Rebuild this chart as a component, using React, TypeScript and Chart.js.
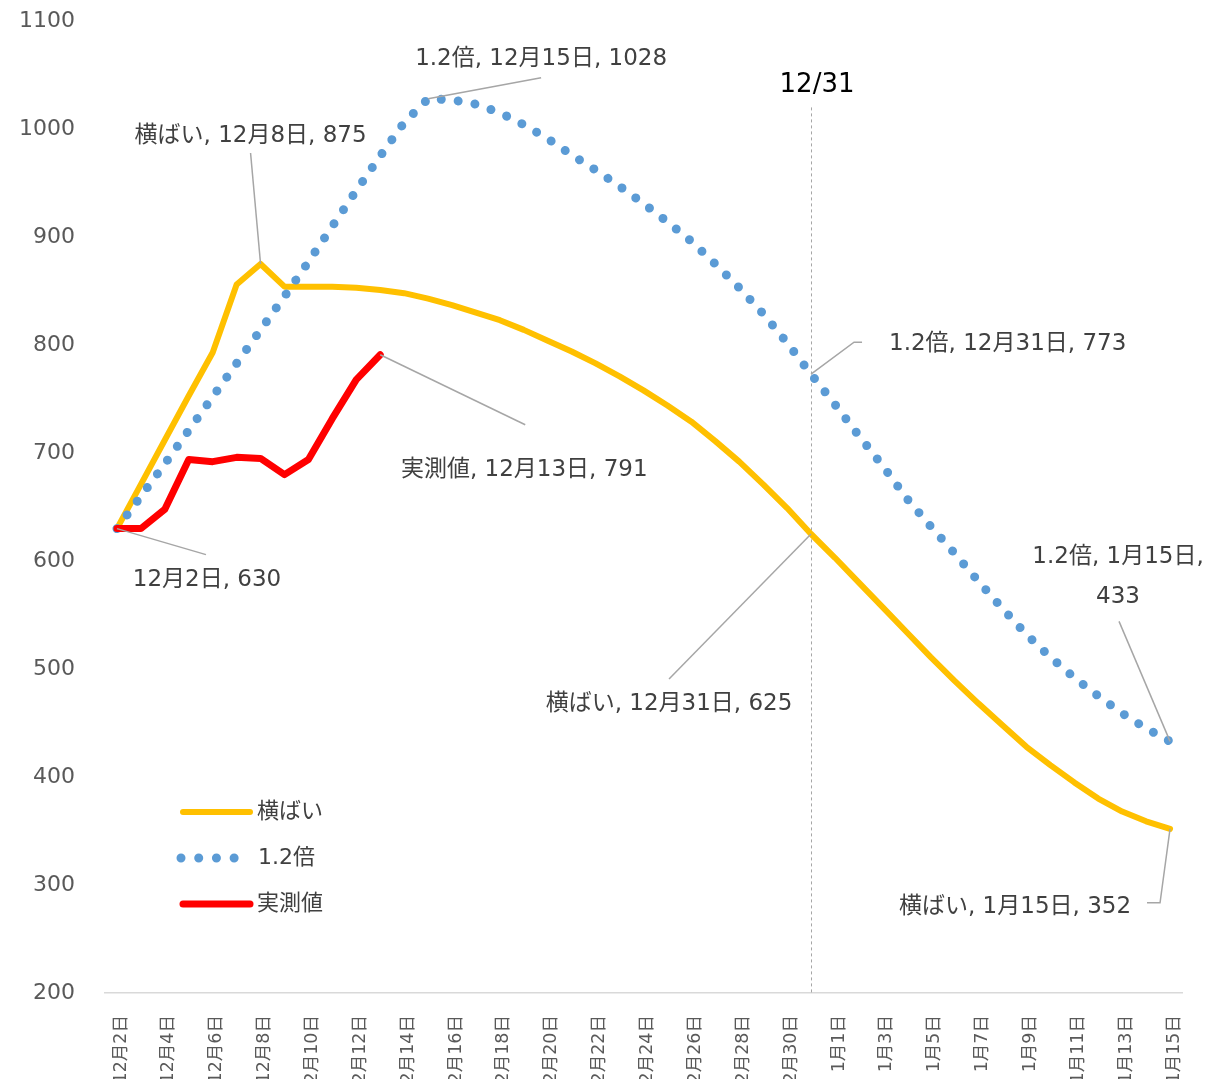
import React, { useEffect, useRef } from 'react';
import { Chart, registerables } from 'chart.js';

Chart.register(...registerables);

const categories = [
  '12月2日', '12月3日', '12月4日', '12月5日', '12月6日', '12月7日', '12月8日', '12月9日', '12月10日',
  '12月11日', '12月12日', '12月13日', '12月14日', '12月15日', '12月16日', '12月17日', '12月18日',
  '12月19日', '12月20日', '12月21日', '12月22日', '12月23日', '12月24日', '12月25日', '12月26日',
  '12月27日', '12月28日', '12月29日', '12月30日', '12月31日',
  '1月1日', '1月2日', '1月3日', '1月4日', '1月5日', '1月6日', '1月7日', '1月8日', '1月9日',
  '1月10日', '1月11日', '1月12日', '1月13日', '1月14日', '1月15日',
];

const flatValues = [
  630, 671, 712, 753, 793, 856, 875, 854, 854, 854, 853, 851, 848, 843, 837, 830, 823, 814, 804,
  794, 783, 771, 758, 744, 729, 711, 692, 671, 649, 625, 603, 580, 557, 534, 511, 489, 468, 448,
  428, 411, 395, 380, 368, 359, 352,
];

const x12Values = [
  630, 660, 690, 721, 752, 783, 814, 845, 877, 910, 943, 975, 1006, 1028, 1027, 1023, 1015, 1004,
  991, 976, 962, 947, 931, 914, 896, 875, 853, 829, 802, 773, 745, 716, 688, 658, 632, 607, 581,
  556, 532, 511, 492, 475, 459, 445, 433,
];

const actualValues = [630, 630, 648, 694, 692, 696, 695, 680, 694, 732, 768, 791];

const seriesNames = ['横ばい', '1.2倍', '実測値'];
const yMin = 200;
const yMax = 1100;
const yStep = 100;
const markerIndex = 29; // 12月31日
const markerLabel = '12/31';
const markerTopValue = 1020;

const FONT = '"DejaVu Sans", "Noto Sans CJK JP", sans-serif';
const COLORS = ['#FFC000', '#5B9BD5', '#FF0000'];

type Ann = {
  ds: number;
  idx: number;
  lines: string[];
  path: [number, number][];
  text: [number, number];
  align: CanvasTextAlign;
};

const annotations: Ann[] = [
  { ds: 2, idx: 0, lines: ['12月2日, 630'], path: [[89, 26]], text: [90, 51], align: 'center' },
  { ds: 0, idx: 6, lines: ['横ばい, 12月8日, 875'], path: [[-10, -111]], text: [-10, -128], align: 'center' },
  { ds: 1, idx: 13, lines: ['1.2倍, 12月15日, 1028'], path: [[113, -21]], text: [113, -40], align: 'center' },
  { ds: 1, idx: 29, lines: ['1.2倍, 12月31日, 773'], path: [[43, -32], [51, -32]], text: [78, -30], align: 'left' },
  { ds: 2, idx: 11, lines: ['実測値, 12月13日, 791'], path: [[145, 70]], text: [144, 115], align: 'center' },
  { ds: 0, idx: 29, lines: ['横ばい, 12月31日, 625'], path: [[-142, 145]], text: [-142, 170], align: 'center' },
  { ds: 1, idx: 44, lines: ['1.2倍, 1月15日,', '433'], path: [[-51, -120]], text: [-52, -184], align: 'center' },
  { ds: 0, idx: 44, lines: ['横ばい, 1月15日, 352'], path: [[-10, 74], [-23, 74]], text: [-39, 78], align: 'right' },
];

const overlayPlugin = {
  id: 'overlay',
  beforeDatasetsDraw(chart: any) {
    const { ctx, chartArea } = chart;
    const xs = chart.scales.x;
    const ys = chart.scales.y;
    const x = Math.round(xs.getPixelForValue(markerIndex)) + 0.5;
    const top = ys.getPixelForValue(markerTopValue);
    ctx.save();
    ctx.strokeStyle = '#A6A6A6';
    ctx.lineWidth = 1;
    ctx.setLineDash([3, 3]);
    ctx.beginPath();
    ctx.moveTo(x, top);
    ctx.lineTo(x, chartArea.bottom);
    ctx.stroke();
    ctx.restore();
  },
  afterDraw(chart: any) {
    const { ctx, chartArea } = chart;
    const xs = chart.scales.x;
    const ys = chart.scales.y;
    ctx.save();
    ctx.fillStyle = '#000000';
    ctx.font = `26px ${FONT}`;
    ctx.textAlign = 'center';
    ctx.textBaseline = 'middle';
    ctx.fillText(markerLabel, xs.getPixelForValue(markerIndex) + 6, ys.getPixelForValue(markerTopValue) - 22);

    ctx.font = `23px ${FONT}`;
    for (const a of annotations) {
      const el = chart.getDatasetMeta(a.ds).data[a.idx];
      if (!el) continue;
      const px = el.x;
      const py = el.y;
      ctx.strokeStyle = '#A6A6A6';
      ctx.lineWidth = 1.5;
      ctx.setLineDash([]);
      ctx.beginPath();
      ctx.moveTo(px, py);
      for (const [dx, dy] of a.path) ctx.lineTo(px + dx, py + dy);
      ctx.stroke();
      ctx.fillStyle = '#404040';
      ctx.textAlign = a.align;
      ctx.textBaseline = 'middle';
      a.lines.forEach((line, i) => {
        ctx.fillText(line, px + a.text[0], py + a.text[1] + i * 40);
      });
    }

    const lx0 = chartArea.left + 78;
    const lx1 = chartArea.left + 145;
    const rows = [chartArea.top + 791, chartArea.top + 837, chartArea.top + 883];
    ctx.lineCap = 'round';
    ctx.strokeStyle = COLORS[0];
    ctx.lineWidth = 6;
    ctx.beginPath();
    ctx.moveTo(lx0, rows[0]);
    ctx.lineTo(lx1, rows[0]);
    ctx.stroke();
    ctx.strokeStyle = COLORS[1];
    ctx.lineWidth = 9;
    ctx.setLineDash([0.01, 17.7]);
    ctx.beginPath();
    ctx.moveTo(lx0 - 2, rows[1]);
    ctx.lineTo(lx0 + 55, rows[1]);
    ctx.stroke();
    ctx.setLineDash([]);
    ctx.strokeStyle = COLORS[2];
    ctx.lineWidth = 7;
    ctx.beginPath();
    ctx.moveTo(lx0, rows[2]);
    ctx.lineTo(lx1, rows[2]);
    ctx.stroke();

    ctx.fillStyle = '#404040';
    ctx.font = `22px ${FONT}`;
    ctx.textAlign = 'left';
    ctx.textBaseline = 'middle';
    ctx.fillText(seriesNames[0], lx1 + 7, rows[0]);
    ctx.fillText(seriesNames[1], lx1 + 8, rows[1]);
    ctx.fillText(seriesNames[2], lx1 + 7, rows[2]);
    ctx.restore();
  },
};

export default function App() {
  const ref = useRef<HTMLCanvasElement>(null);

  useEffect(() => {
    const canvas = ref.current;
    if (!canvas) return;
    const chart = new Chart(canvas, {
      type: 'line',
      data: {
        labels: categories,
        datasets: [
          {
            label: seriesNames[0],
            data: flatValues,
            borderColor: COLORS[0],
            backgroundColor: COLORS[0],
            borderWidth: 6,
            borderCapStyle: 'round',
            borderJoinStyle: 'round',
            pointRadius: 0,
            tension: 0,
            order: 3,
          },
          {
            label: seriesNames[1],
            data: x12Values,
            borderColor: COLORS[1],
            backgroundColor: COLORS[1],
            borderWidth: 9,
            borderDash: [0.01, 17],
            borderCapStyle: 'round',
            borderJoinStyle: 'round',
            pointRadius: 0,
            tension: 0,
            order: 2,
          },
          {
            label: seriesNames[2],
            data: actualValues,
            borderColor: COLORS[2],
            backgroundColor: COLORS[2],
            borderWidth: 7,
            borderCapStyle: 'round',
            borderJoinStyle: 'round',
            pointRadius: 0,
            tension: 0,
            order: 1,
          },
        ],
      },
      options: {
        responsive: false,
        animation: false,
        layout: { padding: { top: 21, right: 27, left: 0, bottom: 0 } },
        plugins: {
          legend: { display: false },
          tooltip: { enabled: false },
        },
        scales: {
          x: {
            offset: true,
            grid: { display: false },
            border: { display: true, color: '#D9D9D9', width: 1.5 },
            ticks: {
              autoSkip: false,
              minRotation: 90,
              maxRotation: 90,
              padding: 14,
              labelOffset: 4,
              color: '#595959',
              font: { family: FONT, size: 17.5 },
              callback: (_v: any, i: number) => (i % 2 === 0 ? categories[i] : ''),
            },
            afterFit: (scale: any) => {
              scale.height = 86;
            },
          },
          y: {
            min: yMin,
            max: yMax,
            grid: { display: false },
            border: { display: false },
            ticks: {
              stepSize: yStep,
              padding: 22,
              color: '#595959',
              font: { family: FONT, size: 22 },
              callback: (v: any) => String(v),
            },
            afterFit: (scale: any) => {
              scale.width = 105;
              scale.paddingTop = 0;
              scale.paddingBottom = 0;
            },
          },
        },
      },
      plugins: [overlayPlugin],
    });
    return () => chart.destroy();
  }, []);

  return (
    <div style={{ position: 'fixed', left: 0, top: 0, width: 1209, height: 1079, background: '#ffffff' }}>
      <canvas ref={ref} width={1209} height={1079} style={{ width: 1209, height: 1079, display: 'block' }} />
    </div>
  );
}
